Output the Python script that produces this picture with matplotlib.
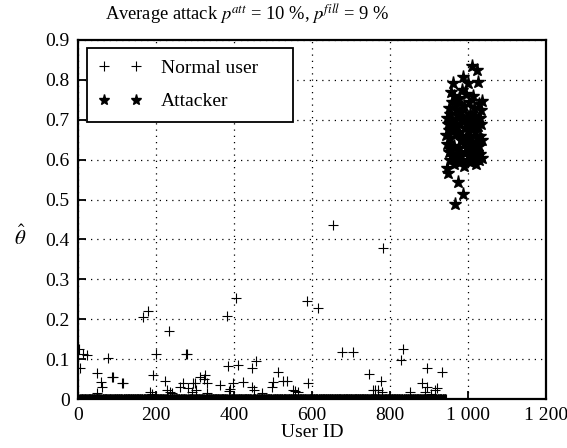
import matplotlib
matplotlib.use('Agg')
import matplotlib.pyplot as plt
import numpy as np

plt.rcParams['font.family'] = ['Liberation Serif', 'DejaVu Serif']
plt.rcParams['mathtext.fontset'] = 'stix'

# normal users: IDs 1..943, theta = 0 unless listed below
n_normal = 943
normal_ids = [2, 5, 14, 22, 48, 49, 58, 61, 78, 86, 89, 112, 116, 166, 180, 185, 190, 193,
              200, 223, 227, 234, 236, 240, 262, 270, 277, 279, 283, 292, 296, 300, 303,
              313, 322, 326, 330, 331, 364, 381, 384, 388, 390, 397, 405, 409, 424, 445,
              447, 450, 456, 471, 497, 501, 514, 526, 535, 552, 556, 565, 586, 591, 616,
              655, 676, 706, 747, 757, 762, 770, 776, 779, 783, 827, 834, 851, 881, 890,
              894, 896, 905, 915, 920, 933]
normal_vals = [0.125, 0.077, 0.112, 0.110, 0.064, 0.014, 0.043, 0.031, 0.102, 0.054, 0.056, 0.041, 0.041, 0.205, 0.221, 0.018, 0.012, 0.060,
               0.114, 0.046, 0.023, 0.171, 0.018, 0.015, 0.031, 0.039, 0.114, 0.114, 0.027, 0.017, 0.039, 0.039, 0.023,
               0.056, 0.050, 0.060, 0.039, 0.016, 0.035, 0.208, 0.083, 0.020, 0.024, 0.041, 0.252, 0.085, 0.043, 0.077,
               0.030, 0.023, 0.096, 0.015, 0.031, 0.043, 0.068, 0.046, 0.046, 0.022, 0.021, 0.018, 0.246, 0.039, 0.227,
               0.435, 0.119, 0.119, 0.063, 0.023, 0.023, 0.023, 0.046, 0.017, 0.378, 0.098, 0.125, 0.018, 0.039, 0.018,
               0.077, 0.031, 0.012, 0.023, 0.027, 0.068]

# attackers: IDs 944..1037
attack_ids = np.arange(944, 1038)
attack_vals = [0.662, 0.578, 0.705, 0.640, 0.690, 0.566, 0.620, 0.730, 0.675, 0.600,
               0.715, 0.655, 0.770, 0.625, 0.695, 0.745, 0.610, 0.793, 0.680, 0.635,
               0.760, 0.590, 0.700, 0.489, 0.665, 0.725, 0.615, 0.685, 0.740, 0.605,
               0.545, 0.670, 0.710, 0.630, 0.755, 0.595, 0.690, 0.650, 0.720, 0.610,
               0.775, 0.660, 0.808, 0.515, 0.700, 0.640, 0.735, 0.585, 0.680, 0.620,
               0.765, 0.650, 0.705, 0.600, 0.690, 0.630, 0.792, 0.675, 0.610, 0.745,
               0.660, 0.715, 0.595, 0.685, 0.625, 0.835, 0.700, 0.645, 0.760, 0.605,
               0.680, 0.730, 0.615, 0.670, 0.640, 0.710, 0.590, 0.695, 0.655, 0.826,
               0.620, 0.795, 0.685, 0.600, 0.740, 0.635, 0.705, 0.660, 0.615, 0.690,
               0.725, 0.605, 0.650, 0.748]

xticks = [0, 200, 400, 600, 800, 1000, 1200]
xticklabels = ['0', '200', '400', '600', '800', '1 000', '1 200']
yticks = [0, 0.1, 0.2, 0.3, 0.4, 0.5, 0.6, 0.7, 0.8, 0.9]
yticklabels = ['0', '0.1', '0.2', '0.3', '0.4', '0.5', '0.6', '0.7', '0.8', '0.9']

all_ids = np.arange(1, n_normal + 1)
theta = np.zeros(n_normal)
theta[np.array(normal_ids) - 1] = normal_vals

fig = plt.figure(figsize=(5.67, 4.48), dpi=100)
ax = fig.add_axes([78/567, 1-399/448, 468/567, 359/448])

ax.plot(all_ids, theta, linestyle='none', marker='+', color='black',
        markersize=7, markeredgewidth=0.8, label='Normal user')
ax.plot(attack_ids, attack_vals, linestyle='none', marker='*', color='black',
        markersize=9.5, label='Attacker')

ax.set_xlim(0, 1200)
ax.set_ylim(0, 0.9)
ax.set_xticks(xticks)
ax.set_xticklabels(xticklabels)
ax.set_yticks(yticks)
ax.set_yticklabels(yticklabels)
ax.tick_params(direction='in', length=6, width=1.3, labelsize=14, pad=6)
ax.grid(True, color='black', linestyle=(0, (1, 4)), linewidth=0.9)
for s in ax.spines.values():
    s.set_linewidth(1.6)

ax.set_xlabel('User ID', fontsize=14, labelpad=0)
ax.set_ylabel(r'$\hat{\theta}$', fontsize=15, rotation=0, ha='center', va='center')
ax.yaxis.set_label_coords(-0.124, 0.45)
fig.text(247/567, 1-15/448, r'Average attack $p^{att}$ = 10 %, $p^{fill}$ = 9 %',
         fontsize=13.3, ha='center', va='center')

leg = ax.legend(loc='upper left', bbox_to_anchor=(0.019, 0.0, 0.44, 0.978),
                mode='expand', borderaxespad=0,
                numpoints=2, fontsize=14, fancybox=False, framealpha=1,
                edgecolor='black', handlelength=2.2, handletextpad=1.0,
                borderpad=0.6, labelspacing=0.8)
leg.get_frame().set_linewidth(1.3)
leg.legend_handles[1].set_markersize(8)

fig.savefig('out.png', dpi=100)
